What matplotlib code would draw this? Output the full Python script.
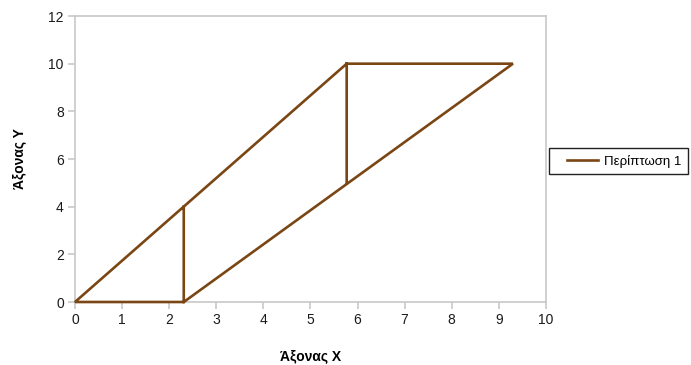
import numpy as np
import matplotlib
matplotlib.use("Agg")
import matplotlib.pyplot as plt
from matplotlib.legend_handler import HandlerLine2D
from matplotlib.lines import Line2D

plt.rcParams['font.family'] = ['Liberation Sans', 'DejaVu Sans']

# Outline of the shape: outer contour, then the two vertical struts (NaN breaks the line)
x_vals = [5.77, 0.0, 2.31, 9.30, 5.77, np.nan, 2.31, 2.31, np.nan, 5.77, 5.77]
y_vals = [10.0, 0.0, 0.0, 10.0, 10.0, np.nan, 0.0, 4.0, np.nan, 10.0, 5.0]
series_name = "Περίπτωση 1"
x_ticks = [0, 1, 2, 3, 4, 5, 6, 7, 8, 9, 10]
y_ticks = [0, 2, 4, 6, 8, 10, 12]


class OffsetLineHandler(HandlerLine2D):
    """Legend key drawn in the right part of the handle box, leaving space on the left."""
    def create_artists(self, legend, orig_handle, xdescent, ydescent,
                       width, height, fontsize, trans):
        y = height / 2 - ydescent
        start = width * 0.28
        ln = Line2D([start - xdescent, width - xdescent], [y, y],
                    color=orig_handle.get_color(), lw=orig_handle.get_linewidth())
        ln.set_transform(trans)
        return [ln]


fig = plt.figure(figsize=(6.91, 3.65), dpi=100)
ax = fig.add_axes([0.1085, 0.1726, 0.6815, 0.7835])

line_color = '#7A4614'
line, = ax.plot(x_vals, y_vals, color=line_color, lw=1.9, label=series_name,
                solid_joinstyle='miter', solid_capstyle='projecting',
                clip_on=False, zorder=5)

ax.set_xlim(0, 10)
ax.set_ylim(0, 12)
ax.set_xticks(x_ticks)
ax.set_yticks(y_ticks)

frame_color = '#C8C8C8'
for side in ['left', 'right', 'top', 'bottom']:
    ax.spines[side].set_color(frame_color)
    ax.spines[side].set_linewidth(1.2)
ax.tick_params(axis='both', direction='out', length=5, color=frame_color,
               width=1.2, labelsize=10, labelcolor='#1a1a1a', pad=3)

ax.set_xlabel("Άξονας Χ", fontsize=10, fontweight='bold', labelpad=16)
ax.set_ylabel("Άξονας Υ", fontsize=10, fontweight='bold', labelpad=16)

leg = fig.legend(handles=[line], labels=[series_name],
                 handler_map={line: OffsetLineHandler()},
                 loc='upper left', bbox_to_anchor=(549 / 691, 1 - 148 / 365),
                 fancybox=False, framealpha=1, edgecolor='#222222',
                 fontsize=9.5, handlelength=3.2, borderpad=0.5,
                 borderaxespad=0, handletextpad=0.5)
leg.get_frame().set_linewidth(1.0)

fig.savefig("out.png", dpi=100, facecolor='white')
